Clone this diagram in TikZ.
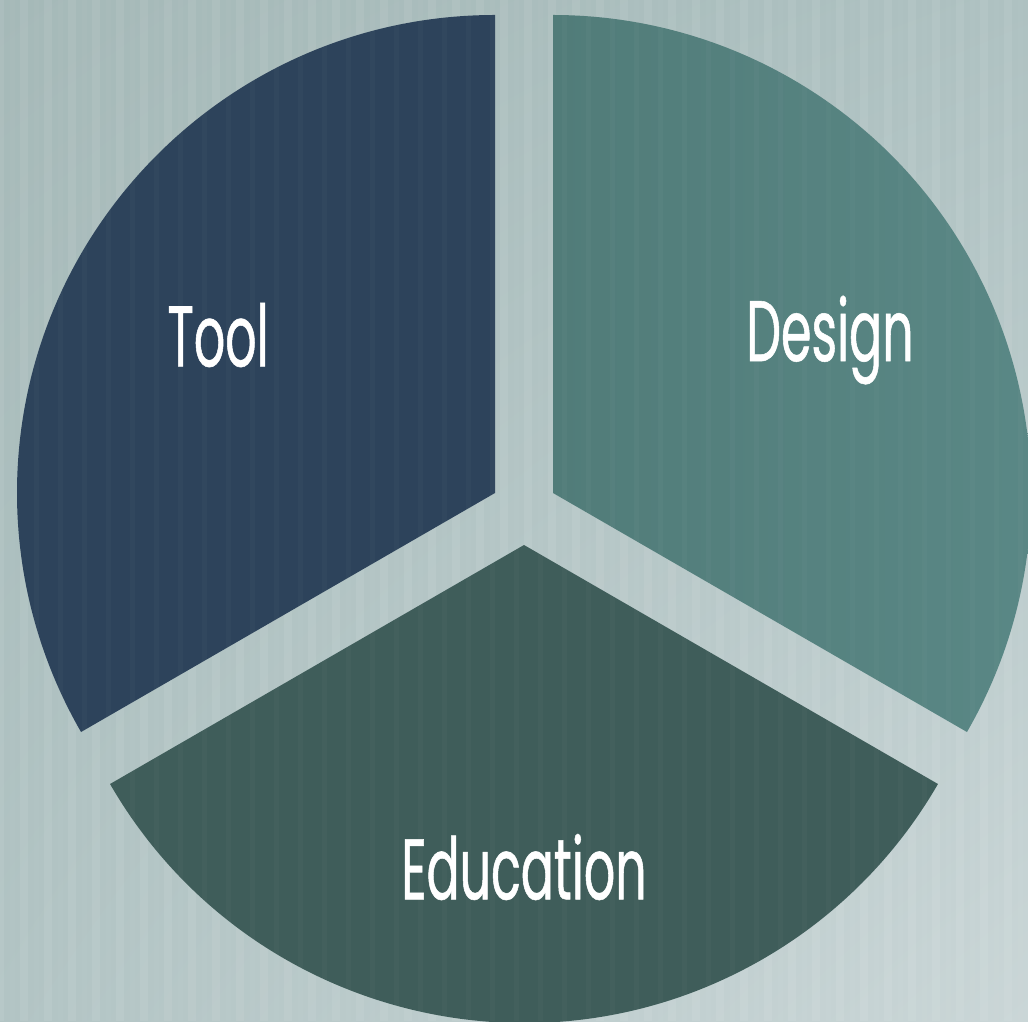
\documentclass[tikz,border=0pt]{standalone}
\usepackage{fontspec}
\usetikzlibrary{shadings}
\newfontfamily\labfont[FakeStretch=0.57,FakeBold=0.6]{Poppins}
\definecolor{toolc}{HTML}{2D435B}
\definecolor{designc}{HTML}{517C79}
\definecolor{designl}{HTML}{5B8987}
\definecolor{educ}{HTML}{3F5D5A}
\definecolor{bgul}{HTML}{A5B9B8}
\definecolor{bgur}{HTML}{AEC1C1}
\definecolor{bgll}{HTML}{B2C4C4}
\definecolor{bglr}{HTML}{CAD6D7}
\tikzset{
  slice/.style={draw=none},
  lab/.style={text=white, font=\labfont\fontsize{86}{90}\selectfont, inner sep=0pt, anchor=center},
  stripe/.style={line width=8pt, white, opacity=0.07}
}
\begin{document}
\begin{tikzpicture}[x=1pt,y=1pt]
\useasboundingbox (0,0) rectangle (1028,1021);
\shade[upper left=bgul, upper right=bgur, lower left=bgll, lower right=bglr] (0,0) rectangle (1028,1021);
\foreach \i in {0,24,...,1030} {\draw[stripe] (\i,0) -- (\i,1021);}
% slices
\coordinate (ct) at (495,528);
\coordinate (cd) at (553,528);
\coordinate (ce) at (524,476);
\fill[slice, toolc] (ct) -- ++(90:478pt) arc[start angle=90, end angle=210, radius=478pt] -- cycle;
\shade[slice, left color=designc, right color=designl] (cd) -- ++(-30:478pt) arc[start angle=-30, end angle=90, radius=478pt] -- cycle;
\fill[slice, educ] (ce) -- ++(210:478pt) arc[start angle=210, end angle=330, radius=478pt] -- cycle;
\foreach \i in {12,36,...,1030} {\draw[line width=5pt, white, opacity=0.025] (\i,0) -- (\i,1021);}
% labels
\node[lab] (tool) at (218,686) {Tool};
\node[lab] (design) at (830,681) {Design};
\node[lab] (edu) at (524,154) {Education};
\end{tikzpicture}
\end{document}
